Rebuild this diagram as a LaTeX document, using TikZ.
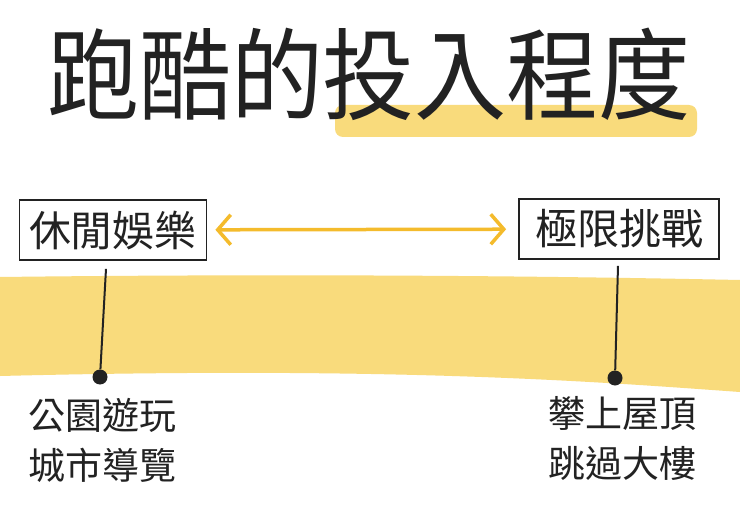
\documentclass[tikz,border=0pt]{standalone}
\usepackage{fontspec}
\setmainfont{Noto Sans CJK TC}
\usepackage{xcolor}
\usetikzlibrary{arrows.meta, positioning, calc}

\definecolor{bandyellow}{HTML}{F9DB7C}
\definecolor{arrowyellow}{HTML}{F4BB2C}
\definecolor{ink}{HTML}{222222}

\begin{document}
\begin{tikzpicture}[
    x=1pt, y=-1pt,
    label box/.style={draw=ink, line width=1.8pt, minimum height=60pt,
        inner xsep=5pt, font=\fontsize{42}{46}\selectfont, text=ink},
    example/.style={align=left, inner sep=0pt,
        font=\fontsize{37}{50}\selectfont, text=ink},
    stem/.style={draw=ink, line width=2pt},
    pin dot/.style={circle, fill=ink, inner sep=0pt, minimum size=15pt},
    span arrow/.style={{Straight Barb[length=13pt, width=30pt]}-{Straight Barb[length=13pt, width=30pt]},
        line width=3.5pt, draw=arrowyellow, line cap=round}
]
\useasboundingbox (0,0) rectangle (740,511);
\fill[white] (0,0) rectangle (740,511);

% yellow band and title highlight
\fill[bandyellow] (0,277) .. controls (250,274) and (500,275) .. (740,280)
    -- (740,392) .. controls (600,382) and (400,366) .. (0,376) -- cycle;
\fill[bandyellow, rounded corners=8pt] (335,105) rectangle (697,137);

\node[font=\fontsize{100}{104}\selectfont, text=ink, xscale=0.92] (title) at (369,74) {跑酷的投入程度};

\node[label box, minimum width=187pt] (leisure) at (113,230) {休閒娛樂};
\node[label box, minimum width=200pt] (extreme) at (619,229) {極限挑戰};
\draw[span arrow, shorten <=8pt, shorten >=12pt] (leisure) -- (extreme);

\node[pin dot] (dotL) at (100,377) {};
\node[pin dot] (dotR) at (615,378) {};
\draw[stem] ($(leisure.south)+(-7,8)$) -- (dotL);
\draw[stem] ($(extreme.south)+(-1,6)$) -- (dotR);

\node[example, anchor=north west] (parks) at (28,398) {公園遊玩\\城市導覽};
\node[example, anchor=north west] (roofs) at (548,396) {攀上屋頂\\跳過大樓};
\end{tikzpicture}
\end{document}
